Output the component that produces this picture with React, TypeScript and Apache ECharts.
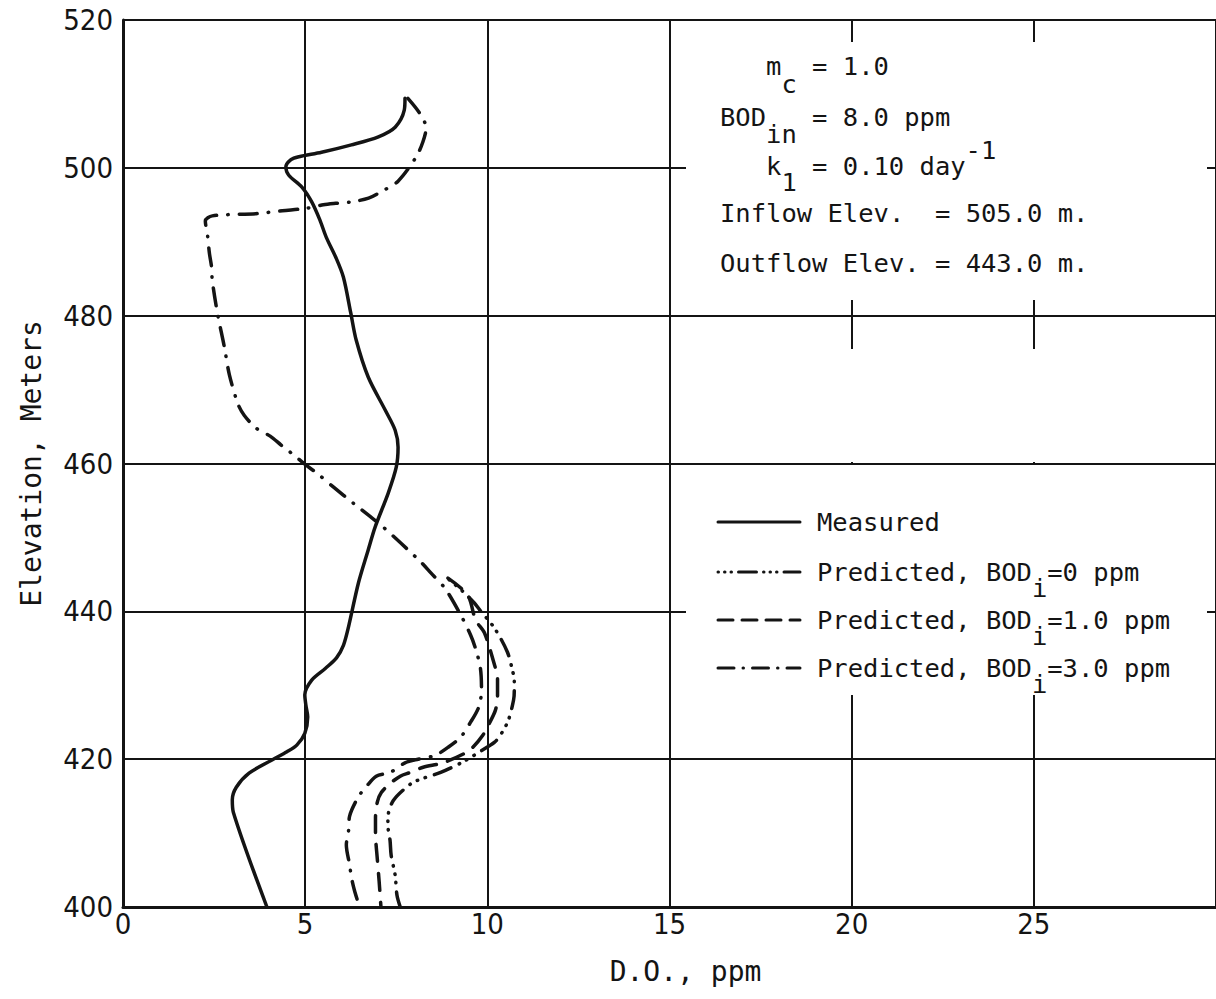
import React, { useEffect, useRef } from "react";
import * as echarts from "echarts";

// ---- Data: [D.O. (ppm), Elevation (m)] ----
const measured: [number, number][] = [
  [7.74, 509.4], [7.72, 507.8], [7.47, 505.5], [7.01, 504.2], [6.27, 503.1],
  [5.45, 502.1], [4.83, 501.5], [4.61, 501.1], [4.47, 500.1], [4.55, 499.0],
  [4.91, 497.4], [5.18, 495.4], [5.4, 493.0], [5.58, 490.6], [5.84, 487.9],
  [6.05, 485.2], [6.25, 480.4], [6.4, 476.7], [6.73, 471.7], [7.2, 467.2],
  [7.47, 464.5], [7.55, 462.2], [7.5, 459.5], [7.28, 456.0], [6.92, 451.4],
  [6.73, 448.3], [6.46, 443.8], [6.19, 437.9], [6.05, 435.4], [5.86, 433.7],
  [5.56, 432.3], [5.18, 430.7], [4.99, 428.7], [5.02, 427.3], [5.07, 425.7],
  [4.99, 423.5], [4.77, 421.9], [4.5, 421.0], [4.09, 419.9], [3.46, 418.1],
  [3.11, 416.2], [3.0, 414.5], [3.03, 412.8], [3.95, 400.0],
];

const predictedBod0: [number, number][] = [
  [8.95, 444.3], [9.35, 442.6], [9.65, 441.1], [9.79, 440.2], [10.2, 437.7],
  [10.55, 434.5], [10.69, 432.0], [10.74, 430.7], [10.74, 429.3], [10.72, 428.0],
  [10.58, 425.3], [10.39, 423.5], [10.2, 422.3], [9.79, 421.0], [9.32, 419.6],
  [8.72, 418.2], [8.23, 417.4], [7.91, 416.7], [7.42, 414.4], [7.27, 412.0],
  [7.28, 410.5], [7.33, 409.0], [7.36, 407.0], [7.47, 404.3], [7.52, 401.6],
  [7.61, 400.0],
];

const predictedBod1: [number, number][] = [
  [8.92, 444.5], [9.46, 442.2], [9.68, 438.8], [9.92, 437.1], [10.2, 432.7],
  [10.28, 431.0], [10.28, 428.4], [10.22, 426.6], [10.06, 424.9], [9.87, 423.2],
  [9.6, 421.6], [9.38, 420.8], [8.78, 419.5], [8.24, 418.9], [7.88, 418.2],
  [7.61, 417.7], [7.33, 416.7], [7.09, 415.5], [6.98, 414.2], [6.93, 412.0],
  [6.93, 410.0], [6.98, 406.5], [7.03, 403.5], [7.08, 400.0],
];

const predictedBod3: [number, number][] = [
  [7.82, 509.4], [8.14, 507.4], [8.32, 505.4], [8.23, 503.5], [8.05, 501.5],
  [7.55, 498.2], [7.06, 496.7], [6.74, 495.9], [6.27, 495.4], [5.84, 495.2],
  [5.5, 495.0], [5.01, 494.5], [4.37, 494.2], [3.65, 493.8], [2.45, 493.5],
  [2.26, 492.8], [2.32, 490.9], [2.37, 488.5], [2.43, 486.6], [2.45, 484.8],
  [2.59, 480.4], [2.78, 475.8], [2.92, 472.0], [3.16, 468.0], [3.33, 466.5],
  [3.65, 464.8], [4.04, 463.7], [4.34, 462.5], [4.75, 460.9], [4.99, 459.9],
  [5.32, 458.7], [5.78, 456.8], [6.33, 454.6], [6.79, 452.8], [7.12, 451.5],
  [8.15, 446.8], [8.45, 445.2], [8.84, 443.1], [9.27, 439.5], [9.54, 436.8],
  [9.68, 434.9], [9.81, 432.3], [9.84, 429.3], [9.76, 427.0], [9.54, 425.0],
  [9.27, 423.0], [8.92, 421.6], [8.56, 420.5], [8.02, 419.9], [7.74, 419.5],
  [7.33, 418.2], [6.95, 417.7], [6.68, 416.3], [6.46, 414.9], [6.22, 412.3],
  [6.19, 410.3], [6.13, 408.4], [6.22, 405.7], [6.27, 404.0], [6.35, 402.3],
  [6.49, 400.0],
];

const xMin = 0;
const xMax = 30;
const xStep = 5;
const yMin = 400;
const yMax = 520;
const yStep = 20;

const legendLabels = [
  ["Measured", ""],
  ["Predicted, BOD", "=0 ppm"],
  ["Predicted, BOD", "=1.0 ppm"],
  ["Predicted, BOD", "=3.0 ppm"],
];

// ---- Styles ----
const INK = "#141414";
const MONO = "'DejaVu Sans Mono', 'Liberation Mono', monospace";
const NARROW = "'Liberation Sans Narrow', 'DejaVu Sans Condensed', 'Liberation Sans', sans-serif";
const FS = 25.5;
const CW = FS * 0.602;

const DASH_SOLID: any = "solid";
const DASH_BOD0 = [0.5, 8, 0.5, 8, 0.5, 9, 18, 9];
const DASH_BOD1 = [17, 12];
const DASH_BOD3 = [18, 11, 0.5, 11];

function txt(text: string, x: number, y: number, size = FS) {
  return {
    type: "text",
    z: 100,
    silent: true,
    x,
    y,
    style: {
      text,
      fontFamily: MONO,
      fontSize: size,
      fill: INK,
      align: "left",
      verticalAlign: "middle",
      textAlign: "left",
      textVerticalAlign: "middle",
    },
  };
}

function mask(x: number, y: number, w: number, h: number) {
  return {
    type: "rect",
    z: 50,
    silent: true,
    shape: { x, y, width: w, height: h },
    style: { fill: "#ffffff" },
  };
}

function sample(y: number, dash: any) {
  return {
    type: "line",
    z: 100,
    silent: true,
    shape: { x1: 718, y1: y, x2: 800, y2: y },
    style: {
      stroke: INK,
      lineWidth: 3,
      lineDash: dash === "solid" ? null : dash,
      lineCap: "round",
    },
  };
}

export default function App() {
  const ref = useRef<HTMLDivElement>(null);

  useEffect(() => {
    const chart = echarts.init(ref.current!, null, { renderer: "svg" });

    const ax = 720; // annotation column 0
    const lx = 817; // legend text column 0
    const legendRows = [522, 572, 620, 668];
    const legendDashes = [DASH_SOLID, [0.5, 6, 0.5, 6, 0.5, 7, 18, 7], [15, 9], [16, 9, 0.5, 9]];

    const graphics: any[] = [
      // masks (paper gaps where the annotation box and legend sit)
      mask(686, 42, 521, 258),
      mask(849, 349, 15, 113),
      mask(1032, 349, 15, 113),
      mask(686, 465, 521, 230),
      // annotation block
      txt("m", ax + 3 * CW, 66),
      txt("c", ax + 4 * CW, 84),
      txt("= 1.0", ax + 6 * CW, 66),
      txt("BOD", ax, 117),
      txt("in", ax + 3 * CW, 134),
      txt("= 8.0 ppm", ax + 6 * CW, 117),
      txt("k", ax + 3 * CW, 166),
      txt("1", ax + 4 * CW, 182),
      txt("= 0.10 day", ax + 6 * CW, 166),
      txt("-1", ax + 16 * CW, 150),
      txt("Inflow Elev.  = 505.0 m.", ax, 213),
      txt("Outflow Elev. = 443.0 m.", ax, 263),
    ];

    legendLabels.forEach((lab, i) => {
      const y = legendRows[i];
      graphics.push(sample(y, legendDashes[i]));
      graphics.push(txt(lab[0], lx, y));
      if (lab[1]) {
        graphics.push(txt("i", lx + 14 * CW, y + 16));
        graphics.push(txt(lab[1], lx + 15 * CW, y));
      }
    });

    const lineSeries = (name: string, data: [number, number][], dash: any, width: number) => ({
      name,
      type: "line",
      data,
      symbol: "none",
      smooth: 0.3,
      z: 3,
      lineStyle: { color: INK, width, type: dash, cap: "round", join: "round" },
    });

    chart.setOption({
      animation: false,
      backgroundColor: "#ffffff",
      grid: { left: 123, top: 20, right: -7, bottom: 92, containLabel: false },
      xAxis: {
        type: "value",
        min: xMin,
        max: xMax,
        interval: xStep,
        name: "D.O., ppm",
        nameLocation: "middle",
        nameGap: 50,
        nameTextStyle: { fontFamily: MONO, fontSize: 28, color: INK, padding: [0, 0, 0, 32] },
        axisLine: { show: true, onZero: false, lineStyle: { color: INK, width: 3 } },
        axisTick: { show: false },
        axisLabel: { fontFamily: NARROW, fontSize: 29, color: INK, margin: 2, showMaxLabel: false },
        splitLine: { show: true, lineStyle: { color: INK, width: 2 } },
      },
      yAxis: {
        type: "value",
        min: yMin,
        max: yMax,
        interval: yStep,
        name: "Elevation, Meters",
        nameLocation: "middle",
        nameRotate: 90,
        nameGap: 78,
        nameTextStyle: { fontFamily: MONO, fontSize: 28, color: INK },
        axisLine: { show: true, onZero: false, lineStyle: { color: INK, width: 3 } },
        axisTick: { show: false },
        axisLabel: { fontFamily: NARROW, fontSize: 29, color: INK, margin: 10 },
        splitLine: { show: true, lineStyle: { color: INK, width: 2 } },
      },
      series: [
        lineSeries("Measured", measured, DASH_SOLID, 3.5),
        lineSeries("Predicted, BODi=0 ppm", predictedBod0, DASH_BOD0, 3.5),
        lineSeries("Predicted, BODi=1.0 ppm", predictedBod1, DASH_BOD1, 3.5),
        lineSeries("Predicted, BODi=3.0 ppm", predictedBod3, DASH_BOD3, 3.5),
      ],
      graphic: { elements: graphics },
    });

    return () => chart.dispose();
  }, []);

  return (
    <div
      ref={ref}
      style={{ position: "fixed", left: 0, top: 0, width: 1216, height: 999, background: "#fff" }}
    />
  );
}
